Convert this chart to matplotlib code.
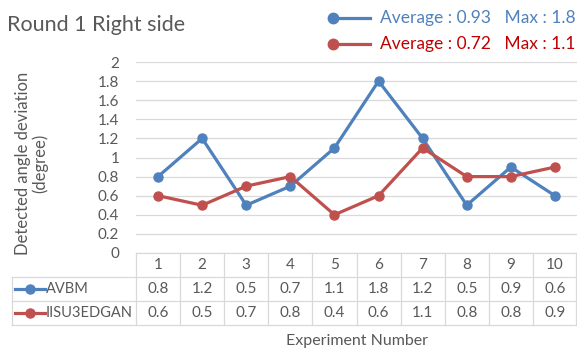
import matplotlib.pyplot as plt
from matplotlib.lines import Line2D
from matplotlib.transforms import blended_transform_factory
import numpy as np

plt.rcParams['font.family'] = ['Lato', 'DejaVu Sans']

experiments = [1, 2, 3, 4, 5, 6, 7, 8, 9, 10]
avbm = [0.8, 1.2, 0.5, 0.7, 1.1, 1.8, 1.2, 0.5, 0.9, 0.6]
iisu = [0.6, 0.5, 0.7, 0.8, 0.4, 0.6, 1.1, 0.8, 0.8, 0.9]
series_names = ['AVBM', 'IISU3EDGAN']
legend_texts = ['Average : 0.93   Max : 1.8', 'Average : 0.72   Max : 1.1']

blue = '#4F81BD'
red = '#C0504D'
grid_c = '#D9D9D9'
text_c = '#595959'

W, H = 577, 350
fig = plt.figure(figsize=(W / 100, H / 100), dpi=100)

def fx(px):
    return px / W

def fy(py):
    return 1 - py / H

x0, x1 = 136, 577
ytop, ybot = 62, 253
ax = fig.add_axes([fx(x0), fy(ybot), fx(x1) - fx(x0), fy(ytop) - fy(ybot)])
ax.set_xlim(0.5, 10.5)
ax.set_ylim(0, 2)
ax.set_yticks(np.arange(0, 2.01, 0.2))
ax.set_yticklabels(['0', '0.2', '0.4', '0.6', '0.8', '1', '1.2', '1.4', '1.6', '1.8', '2'])
ax.tick_params(axis='y', length=0, labelsize=11, labelcolor=text_c, pad=12)
ax.set_xticks([])
ax.grid(axis='y', color=grid_c, linewidth=0.9)
ax.set_axisbelow(True)
for s in ax.spines.values():
    s.set_visible(False)

ax.plot(experiments, avbm, color=blue, lw=2.3, marker='o', ms=6.5, zorder=3)
ax.plot(experiments, iisu, color=red, lw=2.3, marker='o', ms=6.5, zorder=3)

ax.set_ylabel('Detected angle deviation\n(degree)', fontsize=12, color=text_c,
              linespacing=1.05)
ax.yaxis.set_label_coords(-(x0 - 48) / (x1 - x0), 0.47)

# data table under the plot
rows_px = [253, 277, 301, 325]
tr = blended_transform_factory(ax.transData, fig.transFigure)
lab_left = 12
# horizontal rules
fig.add_artist(Line2D([fx(x0), fx(x1)], [fy(rows_px[0])] * 2, color=grid_c, lw=0.9))
for r in rows_px[1:]:
    fig.add_artist(Line2D([fx(lab_left), fx(x1)], [fy(r)] * 2, color=grid_c, lw=0.9))
# vertical rules
for b in np.arange(0.5, 11, 1.0):
    ax.add_line(Line2D([b, b], [fy(rows_px[0]), fy(rows_px[3])], transform=tr,
                       color=grid_c, lw=0.9, clip_on=False))
fig.add_artist(Line2D([fx(lab_left)] * 2, [fy(rows_px[1]), fy(rows_px[3])], color=grid_c, lw=0.9))
fig.add_artist(Line2D([fx(x1) - 0.001] * 2, [fy(rows_px[0]), fy(rows_px[3])], color=grid_c, lw=0.9))

def row_mid(i):
    return fy((rows_px[i] + rows_px[i + 1]) / 2)

for e in experiments:
    ax.text(e, row_mid(0), str(e), transform=tr, ha='center', va='center',
            fontsize=11, color=text_c)
for i, (vals, col) in enumerate([(avbm, blue), (iisu, red)]):
    for e, v in zip(experiments, vals):
        ax.text(e, row_mid(i + 1), f'{v:.1f}', transform=tr, ha='center', va='center',
                fontsize=11, color=text_c)
    fig.add_artist(Line2D([fx(15), fx(30), fx(45)], [row_mid(i + 1)] * 3, color=col, lw=2.3,
                          marker='o', ms=6.5, markevery=[1]))
    fig.text(fx(46), row_mid(i + 1), series_names[i], ha='left', va='center',
             fontsize=10.5, color=text_c)

fig.text(fx(357), fy(341), 'Experiment Number', ha='center', va='center',
         fontsize=11.5, color=text_c)

fig.text(fx(7), fy(25), 'Round 1 Right side', ha='left', va='center',
         fontsize=15.5, color=text_c)

# custom legend with summary values
leg_y = [18, 44]
leg_cols = [blue, red]
leg_txt_cols = ['#4F81BD', '#C00000']
for y, c, tc, t in zip(leg_y, leg_cols, leg_txt_cols, legend_texts):
    fig.add_artist(Line2D([fx(333), fx(370)], [fy(y)] * 2, color=c, lw=2.3,
                          marker='o', ms=7.5, markevery=[0]))
    fig.text(fx(380), fy(y), t, ha='left', va='center', fontsize=12.5, color=tc)

fig.savefig('out.png', dpi=100)
